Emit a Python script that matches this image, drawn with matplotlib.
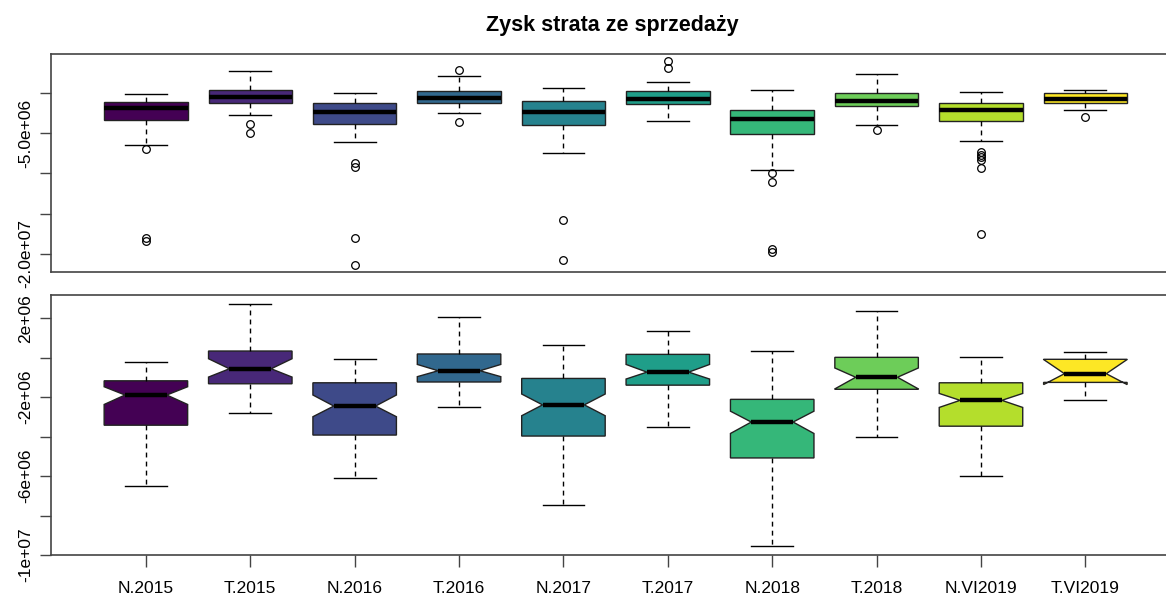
import matplotlib.pyplot as plt

plt.rcParams['font.family'] = ['Liberation Sans', 'DejaVu Sans']

#Data (values in millions)
labels = ["N.2015", "T.2015", "N.2016", "T.2016", "N.2017",
          "T.2017", "N.2018", "T.2018", "N.VI2019", "T.VI2019"]
colors = ["#440154", "#482878", "#3E4A89", "#31688E", "#26828E",
          "#1F9E89", "#35B779", "#6DCD59", "#B4DE2C", "#FDE725"]
whis_hi = [-0.20, 2.74, -0.05, 2.08, 0.63, 1.34, 0.34, 2.36, 0.05, 0.29]
q3 = [-1.17, 0.34, -1.27, 0.19, -1.05, 0.17, -2.11, 0.02, -1.27, -0.08]
med = [-1.89, -0.56, -2.45, -0.66, -2.39, -0.73, -3.26, -0.99, -2.16, -0.81]
q1 = [-3.42, -1.32, -3.92, -1.23, -3.97, -1.39, -5.08, -1.60, -3.47, -1.25]
whis_lo = [-6.51, -2.79, -6.09, -2.49, -7.48, -3.50, -9.54, -4.01, -6.02, -2.16]
ci_hi = [-1.47, -0.05, -1.89, -0.34, -1.84, -0.34, -2.71, -0.52, -1.81, -0.09]
ci_lo = [-2.37, -0.98, -2.99, -0.96, -2.94, -1.08, -3.84, -1.58, -2.52, -1.36]
outliers = [
    [-6.95, -18.07, -18.36],
    [-3.88, -5.00],
    [-8.76, -9.18, -17.99, -21.38],
    [2.78, -3.64],
    [-15.79, -20.72],
    [3.93, 3.03],
    [-10.00, -11.04, -19.43, -19.76],
    [-4.63],
    [-7.32, -7.73, -8.02, -8.35, -9.38, -17.57],
    [-2.98],
]

M = 1e6
stats = []
for i in range(len(labels)):
    stats.append({
        "med": med[i] * M, "q1": q1[i] * M, "q3": q3[i] * M,
        "whislo": whis_lo[i] * M, "whishi": whis_hi[i] * M,
        "cilo": ci_lo[i] * M, "cihi": ci_hi[i] * M,
        "fliers": [v * M for v in outliers[i]],
    })
positions = list(range(1, len(labels) + 1))

fig = plt.figure(figsize=(11.66, 5.98), dpi=100)
W, H = 1166, 598
ax1 = fig.add_axes([50.7 / W, 1 - 271.7 / H, (1172 - 50.7) / W, (271.7 - 54) / H])
ax2 = fig.add_axes([50.7 / W, 1 - 555 / H, (1172 - 50.7) / W, (555 - 295) / H])

edge = "#222222"
common = dict(positions=positions, widths=0.8, patch_artist=True, manage_ticks=False,
              boxprops=dict(edgecolor=edge, linewidth=1.0),
              whiskerprops=dict(color="black", linewidth=1.0, linestyle=(0, (3.5, 3))),
              capprops=dict(color="black", linewidth=1.0),
              medianprops=dict(color="black", linewidth=3.2, solid_capstyle="butt"),
              flierprops=dict(marker="o", markerfacecolor="none", markeredgecolor="black",
                              markersize=5.5, markeredgewidth=0.9))

#Top panel: plain boxes with outliers
b1 = ax1.bxp(stats, shownotches=False, showfliers=True, **common)
#Bottom panel: notched boxes, no outliers
b2 = ax2.bxp(stats, shownotches=True, showfliers=False, **common)
for b in (b1, b2):
    for patch, c in zip(b["boxes"], colors):
        patch.set_facecolor(c)

ax1.set_xlim(0.088, 10.83)
ax2.set_xlim(0.088, 10.83)
ax1.set_ylim(-22.2e6, 4.8e6)
ax2.set_ylim(-10.0e6, 3.18e6)

ax1.set_yticks([0, -5e6, -1e7, -1.5e7, -2e7])
ax1.set_yticklabels(["", "-5.0e+06", "", "", "-2.0e+07"], rotation=90, va="center")
ax1.set_xticks([])

ax2.set_yticks([2e6, 0, -2e6, -4e6, -6e6, -8e6, -1e7])
ax2.set_yticklabels(["2e+06", "", "-2e+06", "", "-6e+06", "", "-1e+07"], rotation=90, va="center")
ax2.set_xticks(positions)
ax2.set_xticklabels(labels)

for ax in (ax1, ax2):
    for s in ax.spines.values():
        s.set_color("#444444")
        s.set_linewidth(1.2)
    ax.tick_params(axis="y", direction="out", length=7.7, width=1.0, color="#444444",
                   pad=5, labelsize=12.5)
    ax.tick_params(axis="x", direction="out", length=8.4, width=1.0, color="#444444",
                   pad=10.5, labelsize=12.5)

fig.text(612 / W, 1 - 25 / H, "Zysk strata ze sprzedaży", ha="center", va="center",
         fontsize=15.5, fontweight="bold")

plt.savefig("out.png", dpi=100)
